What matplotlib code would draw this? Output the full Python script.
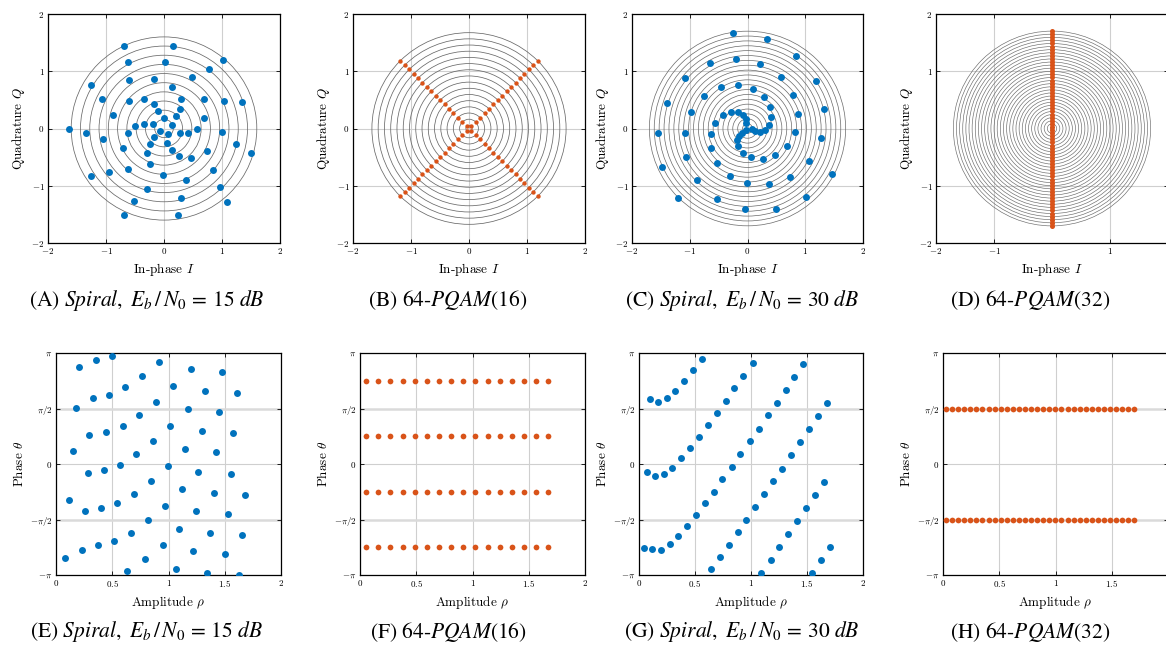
import numpy as np
import matplotlib
matplotlib.use("Agg")
import matplotlib.pyplot as plt
from matplotlib.patches import Circle

BLUE = '#0072bd'
ORANGE = '#d95319'
RING = '#686868'
GRID = '#cfcfcf'

# Spiral, Eb/N0 = 15 dB: amplitude and phase (phase in units of pi)
rho_15 = [0.204, 0.353, 0.498, 0.916, 1.197, 1.473, 0.767, 1.043, 1.324, 1.606,
          0.616, 0.471, 0.329, 0.889, 0.181, 0.741, 1.170, 1.449, 0.596, 1.016,
          1.298, 1.576, 0.296, 0.447, 0.865, 0.154, 1.144, 1.425, 0.714, 0.569,
          0.993, 0.281, 0.424, 1.265, 1.553, 0.842, 0.119, 0.258, 0.397, 0.542,
          0.690, 0.966, 1.117, 1.247, 1.401, 1.683, 1.526, 0.815, 1.090, 1.372,
          1.656, 0.080, 0.228, 0.373, 0.519, 0.664, 0.948, 1.221, 1.499, 0.634,
          0.788, 1.067, 1.345, 1.630]
phase_15 = [0.877, 0.934, 0.970, 0.916, 0.856, 0.829, 0.789, 0.699, 0.657, 0.642,
            0.690, 0.624, 0.597, 0.561, 0.507, 0.438, 0.495, 0.465, 0.341, 0.341,
            0.296, 0.275, 0.257, 0.284, 0.203, 0.116, 0.137, 0.104, 0.086, -0.005,
            -0.017, -0.083, -0.056, -0.068, -0.089, -0.152, -0.320, -0.426, -0.392, -0.347,
            -0.266, -0.374, -0.224, -0.426, -0.260, -0.275, -0.450, -0.507, -0.585, -0.621,
            -0.636, -0.844, -0.771, -0.732, -0.693, -0.621, -0.729, -0.786, -0.814, -0.961,
            -0.859, -0.943, -0.982, -1.000]

# Spiral, Eb/N0 = 30 dB
rho_30 = [0.095, 0.173, 0.247, 0.324, 0.402, 0.485, 0.565,
          0.071, 0.146, 0.220, 0.298, 0.378, 0.455, 0.536, 0.613, 0.693, 0.774, 0.851,
          0.932, 1.015,
          0.042, 0.119, 0.193, 0.274, 0.351, 0.432, 0.509, 0.586, 0.667, 0.744, 0.827,
          0.905, 0.991, 1.068, 1.149, 1.229, 1.310, 1.387, 1.467,
          0.643, 0.723, 0.801, 0.881, 0.958, 1.039, 1.119, 1.199, 1.280, 1.360, 1.440,
          1.521, 1.601, 1.682,
          1.092, 1.176, 1.253, 1.333, 1.414, 1.491, 1.571, 1.655,
          1.545, 1.628, 1.708]
phase_30 = [0.585, 0.558, 0.591, 0.660, 0.744, 0.844, 0.946,
            -0.068, -0.107, -0.092, -0.032, 0.050, 0.143, 0.242, 0.347, 0.459, 0.570, 0.681,
            0.795, 0.910,
            -0.759, -0.768, -0.774, -0.723, -0.648, -0.558, -0.459, -0.353, -0.248, -0.137,
            -0.023, 0.089, 0.203, 0.317, 0.438, 0.552, 0.666, 0.783, 0.901,
            -0.949, -0.841, -0.729, -0.615, -0.504, -0.386, -0.272, -0.155, -0.041, 0.080,
            0.194, 0.314, 0.432, 0.549,
            -0.979, -0.862, -0.744, -0.630, -0.510, -0.392, -0.275, -0.158,
            -0.984, -0.863, -0.747]

# 64-PQAM(16): 16 amplitude levels x 4 phases
rho_pqam16 = [0.054, 0.162, 0.270, 0.378, 0.486, 0.594, 0.702, 0.810,
              0.918, 1.026, 1.134, 1.242, 1.350, 1.458, 1.566, 1.674]
phase_pqam16 = [-0.75, -0.25, 0.25, 0.75]

# 64-PQAM(32): 32 amplitude levels x 2 phases
rho_pqam32 = [0.027, 0.081, 0.135, 0.189, 0.243, 0.297, 0.351, 0.405,
              0.459, 0.513, 0.567, 0.621, 0.675, 0.729, 0.783, 0.837,
              0.891, 0.945, 0.999, 1.053, 1.107, 1.161, 1.215, 1.269,
              1.323, 1.377, 1.431, 1.485, 1.539, 1.593, 1.647, 1.701]
phase_pqam32 = [-0.5, 0.5]

# reference circles
rings_15 = [0.16, 0.32, 0.48, 0.64, 0.80, 0.96, 1.12, 1.28, 1.44, 1.60]
rings_30 = [0.085, 0.17, 0.255, 0.34, 0.425, 0.51, 0.595, 0.68, 0.765, 0.85,
            0.935, 1.02, 1.105, 1.19, 1.275, 1.36, 1.445, 1.53, 1.615, 1.70]

captions = [r"(A) $\mathit{Spiral},\ E_b\,/\,N_0\, =\, 15\ \mathit{dB}$",
            r"(B) 64-$\mathit{PQAM}$(16)",
            r"(C) $\mathit{Spiral},\ E_b\,/\,N_0\, =\, 30\ \mathit{dB}$",
            r"(D) 64-$\mathit{PQAM}$(32)",
            r"(E) $\mathit{Spiral},\ E_b\,/\,N_0\, =\, 15\ \mathit{dB}$",
            r"(F) 64-$\mathit{PQAM}$(16)",
            r"(G) $\mathit{Spiral},\ E_b\,/\,N_0\, =\, 30\ \mathit{dB}$",
            r"(H) 64-$\mathit{PQAM}$(32)"]

plt.rcParams['font.family'] = 'cmr10'
plt.rcParams['mathtext.fontset'] = 'cm'
plt.rcParams['axes.formatter.use_mathtext'] = True

W, H = 1166, 648
fig = plt.figure(figsize=(W / 100, H / 100), dpi=100)


def add_ax(l, t, r, b):
    return fig.add_axes([l / W, 1 - b / H, (r - l) / W, (b - t) / H])


def grid_pts(rhos, phases):
    rr, pp = np.meshgrid(np.array(rhos), np.array(phases))
    return rr.ravel(), pp.ravel() * np.pi


def mlabel(v):
    return r"$%g$" % v if v >= 0 else r"$-%g$" % abs(v)


def style(ax):
    ax.set_axisbelow(True)
    ax.grid(True, color=GRID, lw=0.8)
    ax.tick_params(direction='in', length=3, width=0.6, labelsize=6.5,
                   top=True, right=True, pad=2.5)
    for sp in ax.spines.values():
        sp.set_linewidth(0.9)


def iq_panel(ax, rings, rho, phase, color, size, ticks, ring_lw=0.55):
    ax.set_xlim(-2, 2)
    ax.set_ylim(-2, 2)
    for r in rings:
        ax.add_patch(Circle((0, 0), r, fill=False, ec=RING, lw=ring_lw, zorder=2))
    rho = np.asarray(rho)
    I = rho * np.cos(phase)
    Q = rho * np.sin(phase)
    ax.scatter(I, Q, s=size, color=color, lw=0, zorder=3)
    ax.set_xticks(ticks, [mlabel(t) for t in ticks])
    ax.set_yticks(ticks, [mlabel(t) for t in ticks])
    style(ax)
    ax.set_xlabel(r"In-phase $I$", fontsize=9.5, labelpad=3)
    ax.set_ylabel(r"Quadrature $Q$", fontsize=9.5, labelpad=3)


def polar_panel(ax, rho, phase, color, size):
    ax.set_xlim(0, 2)
    ax.set_ylim(-np.pi, np.pi)
    ax.scatter(rho, phase, s=size, color=color, lw=0, zorder=3)
    xt = [0, 0.5, 1, 1.5, 2]
    ax.set_xticks(xt, [mlabel(t) for t in xt])
    ax.set_yticks(np.pi * np.array([-1, -0.5, 0, 0.5, 1]),
                  [r"$-\pi$", r"$-\pi/2$", r"$0$", r"$\pi/2$", r"$\pi$"])
    style(ax)
    gl = ax.yaxis.get_gridlines()
    for i in (1, 3):
        gl[i].set_linewidth(1.8)
        gl[i].set_color('#dadada')
    ax.set_xlabel(r"Amplitude $\rho$", fontsize=9.5, labelpad=3)
    ax.set_ylabel(r"Phase $\theta$", fontsize=9.5, labelpad=3)


full = [-2, -1, 0, 1, 2]

# top row: I/Q constellations
ax = add_ax(48, 14, 280, 243)
iq_panel(ax, rings_15, rho_15, np.array(phase_15) * np.pi, BLUE, 25, full)

r16, p16 = grid_pts(rho_pqam16, phase_pqam16)
ax = add_ax(353, 14, 585, 243)
iq_panel(ax, rho_pqam16, r16, p16, ORANGE, 10, full)

ax = add_ax(632, 14, 863, 243)
iq_panel(ax, rings_30, rho_30, np.array(phase_30) * np.pi, BLUE, 25, full, 0.5)

r32, p32 = grid_pts(rho_pqam32, phase_pqam32)
ax = add_ax(936, 14, 1168, 243)
iq_panel(ax, rho_pqam32, r32, p32, ORANGE, 13, [-2, -1, 1, 2], 0.45)

# bottom row: amplitude/phase
ax = add_ax(56, 353, 281, 575)
polar_panel(ax, rho_15, np.array(phase_15) * np.pi, BLUE, 25)

ax = add_ax(360, 353, 585, 575)
polar_panel(ax, r16, p16, ORANGE, 17)

ax = add_ax(639, 353, 863, 575)
polar_panel(ax, rho_30, np.array(phase_30) * np.pi, BLUE, 25)

ax = add_ax(943, 353, 1168, 575)
polar_panel(ax, r32, p32, ORANGE, 17)

# captions
cx = [147, 448, 742, 1030]
for i, cap in enumerate(captions):
    x = cx[i % 4]
    y = 300 if i < 4 else 632
    fig.text(x / W, 1 - y / H, cap, ha='center', va='center', fontsize=15.5,
             family='STIXGeneral', math_fontfamily='stix')

fig.savefig("out.png", dpi=100, facecolor='white')
